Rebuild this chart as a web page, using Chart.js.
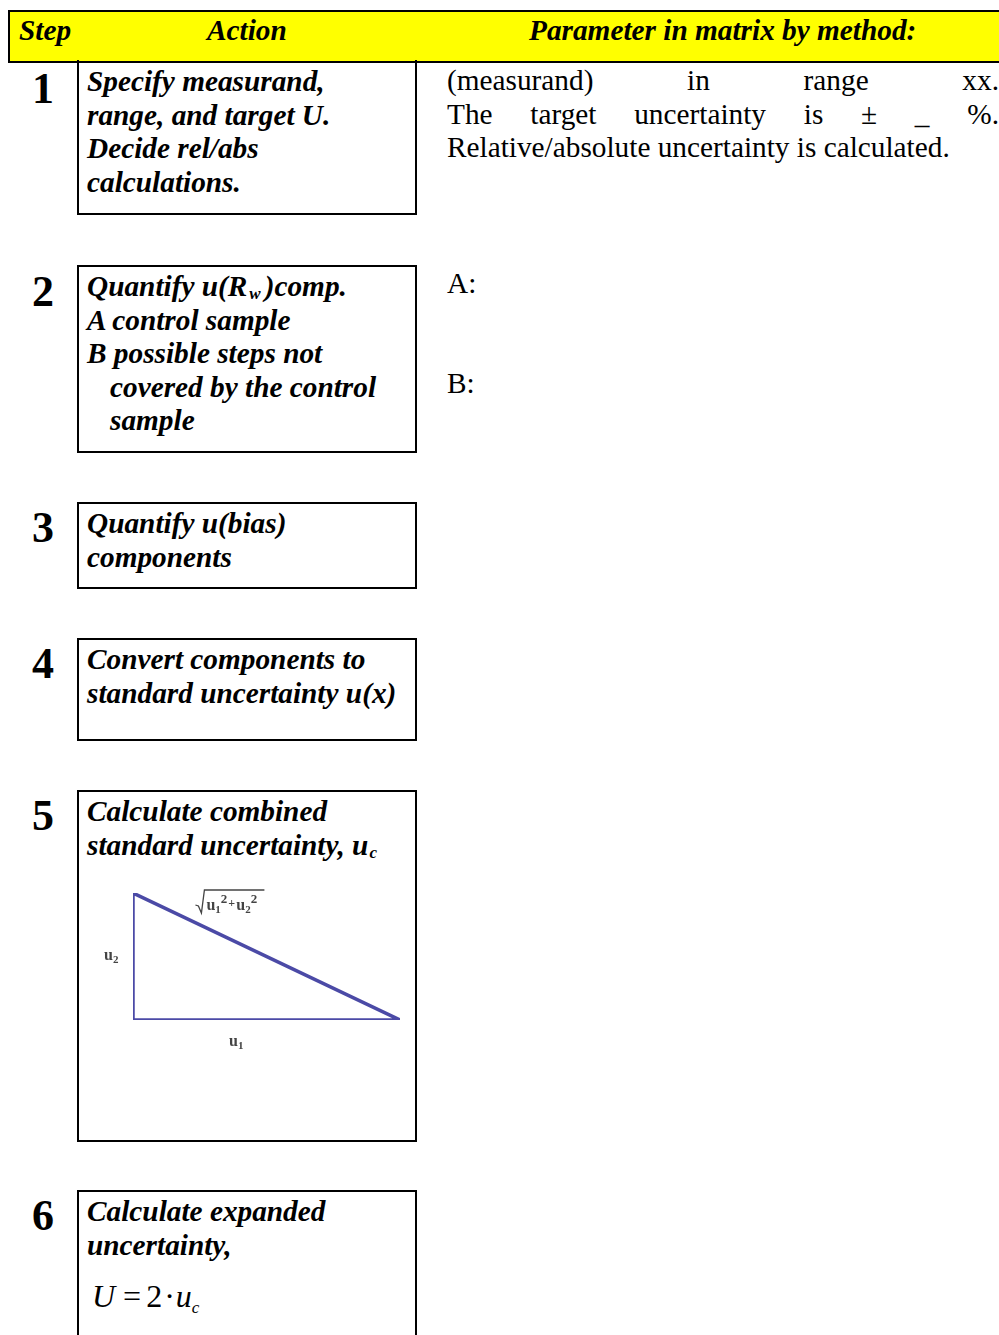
<!DOCTYPE html>
<html>
<head>
<meta charset="utf-8">
<script src="https://cdn.jsdelivr.net/npm/chart.js@4"></script>
<style>
  html, body { margin: 0; padding: 0; background: #fff; }
  body { width: 999px; height: 1335px; position: relative; overflow: hidden; font-family: "Liberation Serif", "Times New Roman", serif; color: #000; }
  .abs { position: absolute; }
  .bi { font-weight: bold; font-style: italic; }
  .header { left: 8px; top: 10px; width: 991px; height: 49px; background: #ffff00; border-top: 2px solid #000; border-bottom: 2px solid #000; border-left: 2px solid #000; }
  .htxt { position: absolute; top: -2px; font-size: 29.3px; line-height: 40px; white-space: nowrap; }
  .box { position: absolute; left: 77px; width: 336px; border: 2px solid #000; box-sizing: content-box; }
  .btxt { position: absolute; left: 8px; top: 3px; font-size: 29.3px; line-height: 33.6px; white-space: nowrap; }
  .num { position: absolute; left: 21px; width: 44px; text-align: center; font-weight: bold; font-size: 44px; line-height: 44px; }
  .rtxt { position: absolute; left: 447px; width: 552px; font-size: 29.3px; line-height: 33.6px; }
  .just { text-align: justify; text-align-last: justify; white-space: nowrap; }
  .ind { padding-left: 23px; }
  .sb { font-size: 17px; line-height: 0; vertical-align: -3px; }
</style>
</head>
<body>
<div class="abs header">
  <div class="htxt bi" style="left:9px;">Step</div>
  <div class="htxt bi" style="left:197px;">Action</div>
  <div class="htxt bi" style="left:519px;">Parameter in matrix by method:</div>
</div>

<div class="num" style="top:67px;">1</div>
<div class="box" style="top:60px; height:153px; border-top:none;">
  <div class="btxt bi" style="top:5px;">Specify measurand,<br>range, and target U.<br>Decide rel/abs<br>calculations.</div>
</div>
<div class="rtxt" style="top:64px;">
  <div class="just">(measurand) in range xx.</div>
  <div class="just">The target uncertainty is ± _ %.</div>
  <div>Relative/absolute uncertainty is calculated.</div>
</div>

<div class="num" style="top:270px;">2</div>
<div class="box" style="top:265px; height:184px;">
  <div class="btxt bi">Quantify u(R<span class="sb" style="margin:0 4px 0 2px;">w</span>)comp.<br>A control sample<br>B possible steps not<br><span class="ind">covered by the control</span><br><span class="ind">sample</span></div>
</div>
<div class="rtxt" style="top:267px;">A:</div>
<div class="rtxt" style="top:367px;">B:</div>

<div class="num" style="top:506px;">3</div>
<div class="box" style="top:502px; height:83px;">
  <div class="btxt bi">Quantify u(bias)<br>components</div>
</div>

<div class="num" style="top:642px;">4</div>
<div class="box" style="top:638px; height:99px;">
  <div class="btxt bi">Convert components to<br>standard uncertainty u(x)</div>
</div>

<div class="num" style="top:794px;">5</div>
<div class="box" style="top:790px; height:348px;">
  <div class="btxt bi">Calculate combined<br>standard uncertainty, u<span class="sb" style="margin-left:1px;">c</span></div>
</div>
<div class="abs" style="left:80px; top:866px; width:334px; height:194px;">
  <canvas id="tri"></canvas>
</div>

<div class="num" style="top:1194px;">6</div>
<div class="box" style="top:1190px; height:160px;">
  <div class="btxt bi">Calculate expanded<br>uncertainty,</div>
  <div class="abs" style="left:13px; top:86px; font-size:32px; line-height:36px; white-space:nowrap;"><i>U</i><span style="margin-left:8px;">=</span><span style="margin-left:5px;">2</span><span style="margin:0 1px 0 2px;">·</span><i>u</i><i class="sb" style="vertical-align:-6px;">c</i></div>
</div>

<script>
// triangle legs (arbitrary units)
const triX = [0, 0, 2.1, 0];
const triY = [1, 0, 0, 1];
const u1Len = 2.1;
const u2Len = 1;

const triPoints = triX.map((x, i) => ({ x: x, y: triY[i] }));

const legLabels = {
    id: 'legLabels',
    afterDraw(chart) {
        const ctx = chart.ctx;
        const xs = chart.scales.x;
        const ys = chart.scales.y;
        ctx.save();
        ctx.fillStyle = '#444';
        ctx.textBaseline = 'alphabetic';

        const drawU = (x, y, sub, sup) => {
            ctx.font = 'bold 16px "Liberation Serif"';
            ctx.fillText('u', x, y);
            let w = ctx.measureText('u').width;
            ctx.font = 'bold 11px "Liberation Serif"';
            ctx.fillText(sub, x + w, y + 3);
            let extra = ctx.measureText(sub).width;
            if (sup) {
                ctx.font = 'bold 13px "Liberation Serif"';
                ctx.fillText(sup, x + w + extra, y - 7);
                extra += ctx.measureText(sup).width;
            }
            return w + extra + 1;
        };

        // u2 beside vertical leg
        drawU(xs.getPixelForValue(0) - 29, ys.getPixelForValue(u2Len / 2) + 3, '2');
        // u1 below horizontal leg
        drawU(xs.getPixelForValue(u1Len * 0.36), ys.getPixelForValue(0) + 26, '1');

        // sqrt(u1^2 + u2^2) above hypotenuse
        const sx = xs.getPixelForValue(u1Len * 0.26);
        const sy = ys.getPixelForValue(u2Len) + 20;
        ctx.strokeStyle = '#444';
        ctx.lineWidth = 1.3;
        ctx.beginPath();
        ctx.moveTo(sx - 7, sy - 8);
        ctx.lineTo(sx - 4, sy - 7);
        ctx.lineTo(sx - 1, sy);
        ctx.lineTo(sx + 2, sy - 23);
        ctx.lineTo(sx + 62, sy - 23);
        ctx.stroke();
        let cx = sx + 4;
        cx += drawU(cx, sy - 3, '1', '2');
        ctx.font = 'bold 12px "Liberation Serif"';
        ctx.fillText('+', cx, sy - 6);
        cx += 8;
        drawU(cx, sy - 3, '2', '2');
        ctx.restore();
    }
};

new Chart(document.getElementById('tri'), {
    type: 'scatter',
    data: {
        datasets: [{
            data: triPoints,
            showLine: true,
            borderColor: '#4b4aa6',
            borderWidth: 3.5,
            pointRadius: 0,
            fill: false,
            tension: 0
        }]
    },
    options: {
        responsive: true,
        maintainAspectRatio: false,
        animation: false,
        layout: { padding: { left: 53, right: 14, top: 27, bottom: 40 } },
        plugins: { legend: { display: false }, tooltip: { enabled: false } },
        scales: {
            x: { display: false, min: 0, max: u1Len },
            y: { display: false, min: 0, max: u2Len }
        }
    },
    plugins: [legLabels]
});
</script>
</body>
</html>
